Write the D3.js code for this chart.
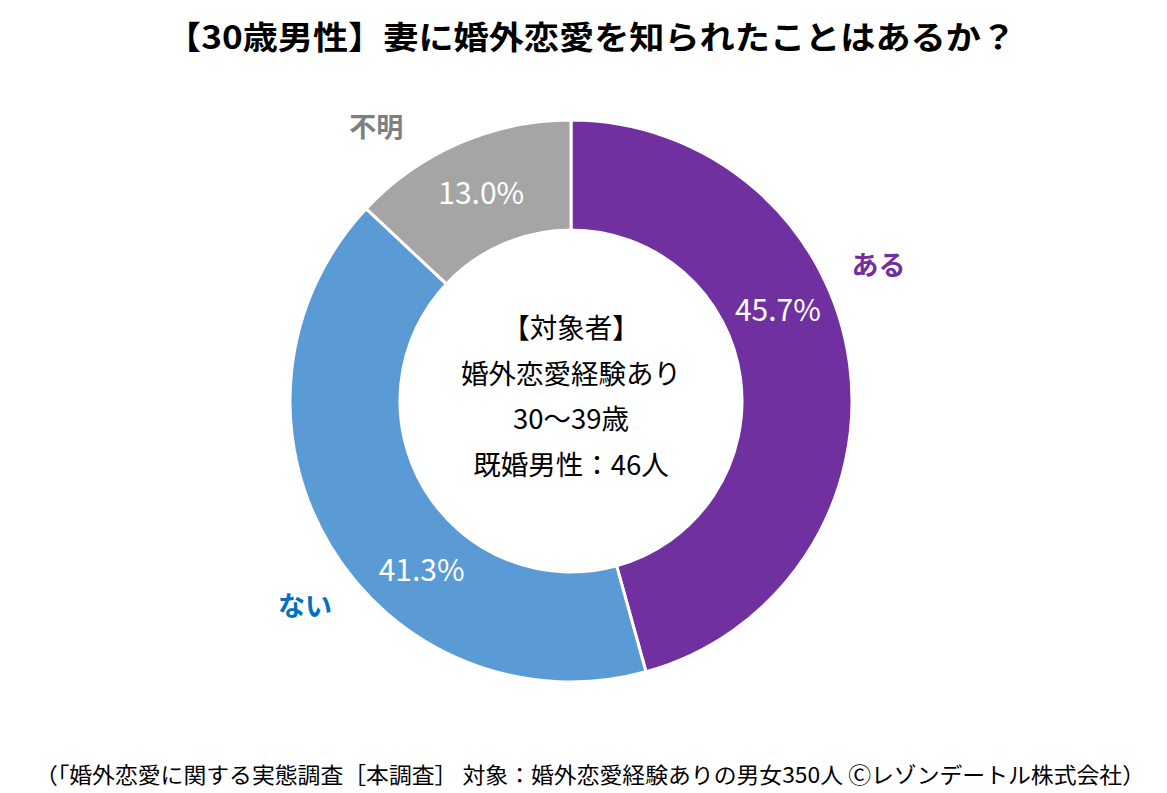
<!DOCTYPE html>
<html>
<head>
<meta charset="utf-8">
<script src="https://cdn.jsdelivr.net/npm/d3@7"></script>
<style>
  body { margin: 0; background: #fff; }
  text { font-family: "Noto Sans CJK JP", "Noto Sans", sans-serif; }
</style>
</head>
<body>
<script>
// chart data
var categories = ["ある", "ない", "不明"];
var shares = [45.7, 41.3, 13.0];
var centerLines = ["【対象者】", "婚外恋愛経験あり", "30～39歳", "既婚男性：46人"];
var titleText = "【30歳男性】妻に婚外恋愛を知られたことはあるか？";
var footerText = "（「婚外恋愛に関する実態調査［本調査］ 対象：婚外恋愛経験ありの男女350人 Ⓒレゾンデートル株式会社）";

window.onload = function(){

    var w = 1167, h = 793;
    var cx = 571, cy = 401;
    var outerR = 281, innerR = 171;

    var sliceColors = ["#7030A0", "#5B9BD5", "#A5A5A5"];
    var nameColors = ["#7030A0", "#0070C0", "#7F7F7F"];

    // label angle shifts (degrees) from slice mid angle, like excel puts them
    var pctShift = [-16, -17.5, 0];
    var nameShift = [-16, -6.5, -12];

    var svg = d3.select("body")
        .append("svg")
        .attr("width", w)
        .attr("height", h);

    //title
    svg.append("text")
        .attr("x", 591)
        .attr("y", 49)
        .attr("text-anchor", "middle")
        .attr("font-size", 32)
        .attr("font-weight", "bold")
        .attr("fill", "#000")
        .attr("textLength", 850)
        .attr("lengthAdjust", "spacingAndGlyphs")
        .text(titleText);

    var pie = d3.pie()
        .sort(null)
        .value(function(d){ return d; });

    var arcs = pie(shares);

    var arc = d3.arc()
        .innerRadius(innerR)
        .outerRadius(outerR);

    var g = svg.append("g")
        .attr("transform", "translate(" + cx + "," + cy + ")");

    g.selectAll(".slice")
        .data(arcs)
        .enter()
        .append("path")
        .attr("class", "slice")
        .attr("d", arc)
        .attr("fill", function(d, i){ return sliceColors[i]; })
        .attr("stroke", "#fff")
        .attr("stroke-width", 3);

    //position at a radius and angle (radians, clockwise from top)
    function polar(r, a){
        return [r * Math.sin(a), -r * Math.cos(a)];
    }
    function mid(d){
        return (d.startAngle + d.endAngle) / 2;
    }
    var rad = Math.PI / 180;

    //percent labels inside ring
    g.selectAll(".pct")
        .data(arcs)
        .enter()
        .append("text")
        .attr("class", "pct")
        .attr("text-anchor", "middle")
        .attr("dy", "0.36em")
        .attr("font-size", 30)
        .attr("fill", "#fff")
        .attr("transform", function(d, i){
            var p = polar((outerR + innerR) / 2, mid(d) + pctShift[i] * rad);
            return "translate(" + p[0] + "," + p[1] + ")";
        })
        .text(function(d){ return d.value.toFixed(1) + "%"; });

    //category names outside ring
    g.selectAll(".name")
        .data(arcs)
        .enter()
        .append("text")
        .attr("class", "name")
        .attr("text-anchor", "middle")
        .attr("dy", "0.36em")
        .attr("font-size", 27)
        .attr("font-weight", "bold")
        .attr("fill", function(d, i){ return nameColors[i]; })
        .attr("transform", function(d, i){
            var p = polar(outerR + 55, mid(d) + nameShift[i] * rad);
            return "translate(" + p[0] + "," + p[1] + ")";
        })
        .text(function(d, i){ return categories[i]; });

    //text in the hole
    g.selectAll(".center")
        .data(centerLines)
        .enter()
        .append("text")
        .attr("class", "center")
        .attr("text-anchor", "middle")
        .attr("x", 0)
        .attr("y", function(d, i){ return -63 + i * 45.5; })
        .attr("font-size", 27.5)
        .attr("fill", "#000")
        .text(function(d){ return d; });

    //source note
    svg.append("text")
        .attr("x", 590)
        .attr("y", 783)
        .attr("text-anchor", "middle")
        .attr("font-size", 22)
        .attr("fill", "#000")
        .attr("textLength", 1110)
        .attr("lengthAdjust", "spacingAndGlyphs")
        .text(footerText);
};
</script>
</body>
</html>
